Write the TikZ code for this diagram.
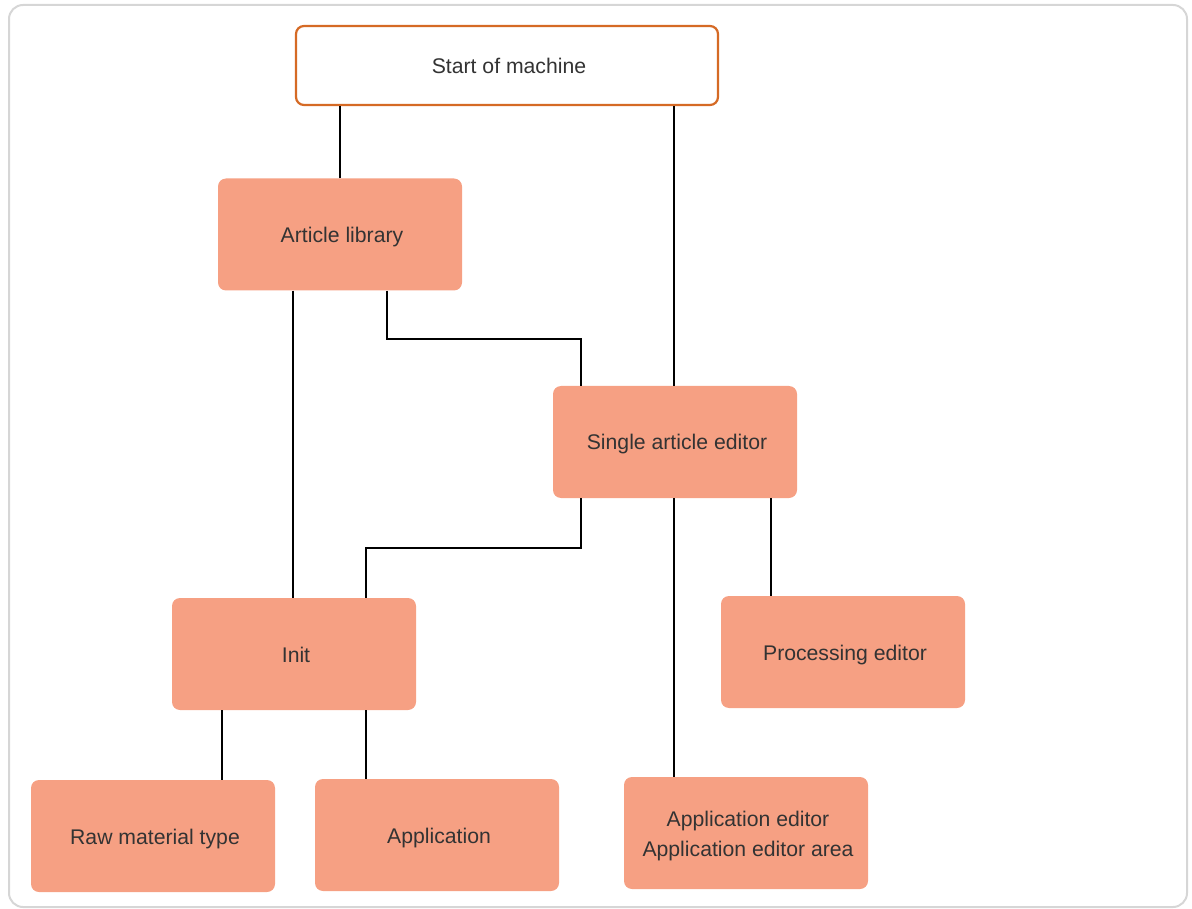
\documentclass[tikz,border=0pt]{standalone}
\usepackage{fontspec}
\setmainfont{Liberation Sans}
\usetikzlibrary{calc}
\definecolor{boxfill}{HTML}{F6A083}
\definecolor{startedge}{HTML}{D56A25}
\definecolor{txt}{HTML}{333333}
\definecolor{frame}{HTML}{D6D6D6}
\newcommand\boxtext[1]{\raisebox{-2pt}[\height][\depth]{\kern4pt\begin{tabular}{@{}c@{}}#1\end{tabular}}}
\tikzset{
  box/.style={rectangle, rounded corners=8pt, fill=boxfill, draw=none,
    minimum width=244pt, minimum height=112pt, inner sep=0pt,
    text=txt, align=center, font=\fontsize{21.2}{30}\selectfont},
  startbox/.style={box, fill=white, draw=startedge, line width=2.2pt,
    minimum width=422pt, minimum height=79pt},
  link/.style={black, line width=1.8pt}
}
\begin{document}
\begin{tikzpicture}[x=1pt,y=-1pt]
\useasboundingbox (0,0) rectangle (1192,909);
\draw[frame, line width=2pt, rounded corners=14pt] (9,5) rectangle (1187,907);

\node[startbox] (start) at (507,65.5) {\boxtext{Start of machine}};
\node[box] (lib) at (340,234.5) {\boxtext{Article library}};
\node[box] (sae) at (675,442) {\boxtext{Single article editor}};
\node[box] (init) at (294,654) {\boxtext{Init}};
\node[box] (proc) at (843,652) {\boxtext{Processing editor}};
\node[box] (raw) at (153,836) {\boxtext{Raw material type}};
\node[box] (app) at (437,835) {\boxtext{Application}};
\node[box] (appe) at (746,833) {\boxtext{Application editor\\Application editor area}};

\draw[link] (lib.north) -- (lib.north |- start.south);
\draw[link] ([xshift=-1pt]sae.north) -- ([xshift=-1pt]sae.north |- start.south);
\draw[link] ([xshift=47pt]lib.south) -- ++(0,48) -| ([xshift=-94pt]sae.north);
\draw[link] ([xshift=-47pt]lib.south) -- ([xshift=-47pt]lib.south |- init.north);
\draw[link] ([xshift=-94pt]sae.south) -- ++(0,50) -| ([xshift=72pt]init.north);
\draw[link] ([xshift=-1pt]sae.south) -- ([xshift=-1pt]sae.south |- appe.north);
\draw[link] ([xshift=96pt]sae.south) -- ([xshift=96pt]sae.south |- proc.north);
\draw[link] ([xshift=-72pt]init.south) -- ([xshift=-72pt]init.south |- raw.north);
\draw[link] ([xshift=72pt]init.south) -- ([xshift=72pt]init.south |- app.north);
\end{tikzpicture}
\end{document}
